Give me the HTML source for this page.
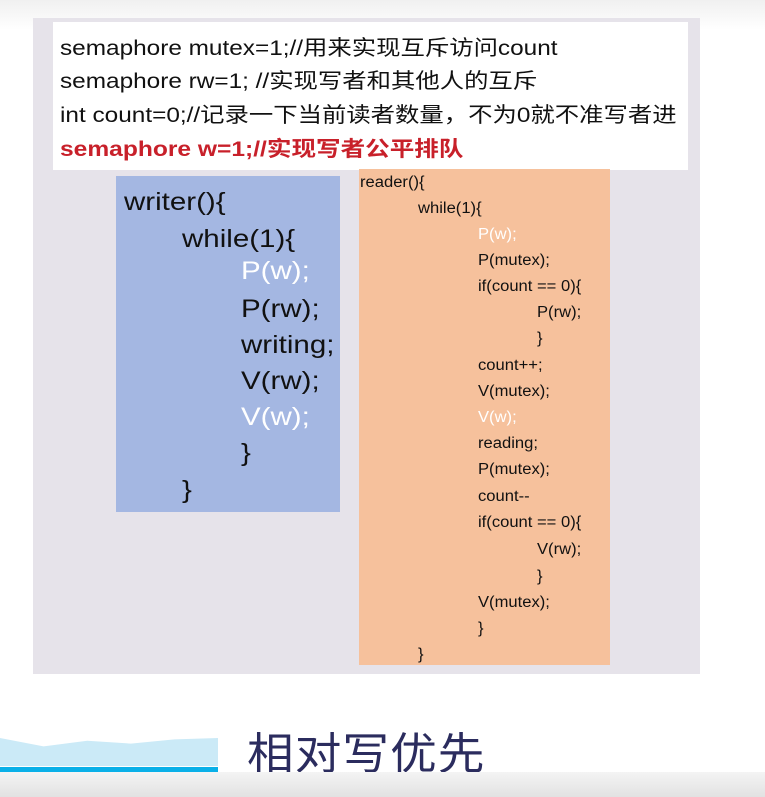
<!DOCTYPE html>
<html><head><meta charset="utf-8"><style>
body{margin:0;width:765px;height:797px;background:#fff;position:relative;overflow:hidden;font-family:"Liberation Sans","Noto Sans CJK SC",sans-serif}
.a{position:absolute;white-space:nowrap;transform-origin:0 0}
#panel{left:33px;top:18px;width:667px;height:656px;background:#e6e3ea}
#white{left:53px;top:22px;width:635px;height:148px;background:#fff}
.h{font-size:21px;color:#111;left:60px;transform:scaleX(1.16)}
#blue{left:116px;top:176px;width:224px;height:336px;background:#a4b7e2}
#orange{left:359px;top:169px;width:251px;height:496px;background:#f6c19c}
.w{font-size:25px;color:#111;transform:scaleX(1.18)}
.r{font-size:15.5px;color:#111;transform:scaleX(1.07)}
.wh{color:#fff}
</style></head><body>
<div class="a" style="left:0;top:0;width:765px;height:30px;background:linear-gradient(#f0f0f0,#fff)"></div>
<div class="a" id="panel"></div>
<div class="a" id="white"></div>
<div class="a h" style="top:32px">semaphore mutex=1;//用来实现互斥访问count</div>
<div class="a h" style="top:65px">semaphore rw=1; //实现写者和其他人的互斥</div>
<div class="a h" style="top:99px">int count=0;//记录一下当前读者数量，不为0就不准写者进</div>
<div class="a h" style="top:133px;color:#c8202a;font-weight:bold;transform:scaleX(1.17)">semaphore w=1;//实现写者公平排队</div>
<div class="a" id="blue"></div>
<div class="a w" style="left:124px;top:188px">writer(){</div>
<div class="a w" style="left:182px;top:225px">while(1){</div>
<div class="a w wh" style="left:241px;top:257px">P(w);</div>
<div class="a w" style="left:241px;top:295px">P(rw);</div>
<div class="a w" style="left:241px;top:331px">writing;</div>
<div class="a w" style="left:241px;top:367px">V(rw);</div>
<div class="a w wh" style="left:241px;top:403px">V(w);</div>
<div class="a w" style="left:241px;top:439px">}</div>
<div class="a w" style="left:182px;top:476px">}</div>
<div class="a" id="orange"></div>
<div class="a r" style="left:360px;top:174px">reader(){</div>
<div class="a r" style="left:418px;top:200px">while(1){</div>
<div class="a r wh" style="left:478px;top:226px">P(w);</div>
<div class="a r" style="left:478px;top:252px">P(mutex);</div>
<div class="a r" style="left:478px;top:278px">if(count == 0){</div>
<div class="a r" style="left:537px;top:304px">P(rw);</div>
<div class="a r" style="left:537px;top:330px">}</div>
<div class="a r" style="left:478px;top:357px">count++;</div>
<div class="a r" style="left:478px;top:383px">V(mutex);</div>
<div class="a r wh" style="left:478px;top:409px">V(w);</div>
<div class="a r" style="left:478px;top:435px">reading;</div>
<div class="a r" style="left:478px;top:461px">P(mutex);</div>
<div class="a r" style="left:478px;top:488px">count--</div>
<div class="a r" style="left:478px;top:514px">if(count == 0){</div>
<div class="a r" style="left:537px;top:541px">V(rw);</div>
<div class="a r" style="left:537px;top:568px">}</div>
<div class="a r" style="left:478px;top:594px">V(mutex);</div>
<div class="a r" style="left:478px;top:620px">}</div>
<div class="a r" style="left:418px;top:646px">}</div>
<div class="a" style="left:0;top:738px;width:218px;height:28px;background:#cbeaf7;clip-path:polygon(0 0,20% 30%,40% 10%,60% 20%,80% 5%,100% 0,100% 100%,0 100%)"></div>
<div class="a" style="left:0;top:767px;width:218px;height:5px;background:#0ab0e8"></div>
<div class="a" style="left:247px;top:718px;font-size:44px;color:#2b2c5e;letter-spacing:1px;transform:scaleX(1.06)">相对写优先</div>
<div class="a" style="left:0;top:772px;width:765px;height:25px;background:linear-gradient(#f4f4f4,#e2e2e2)"></div>
</body></html>
